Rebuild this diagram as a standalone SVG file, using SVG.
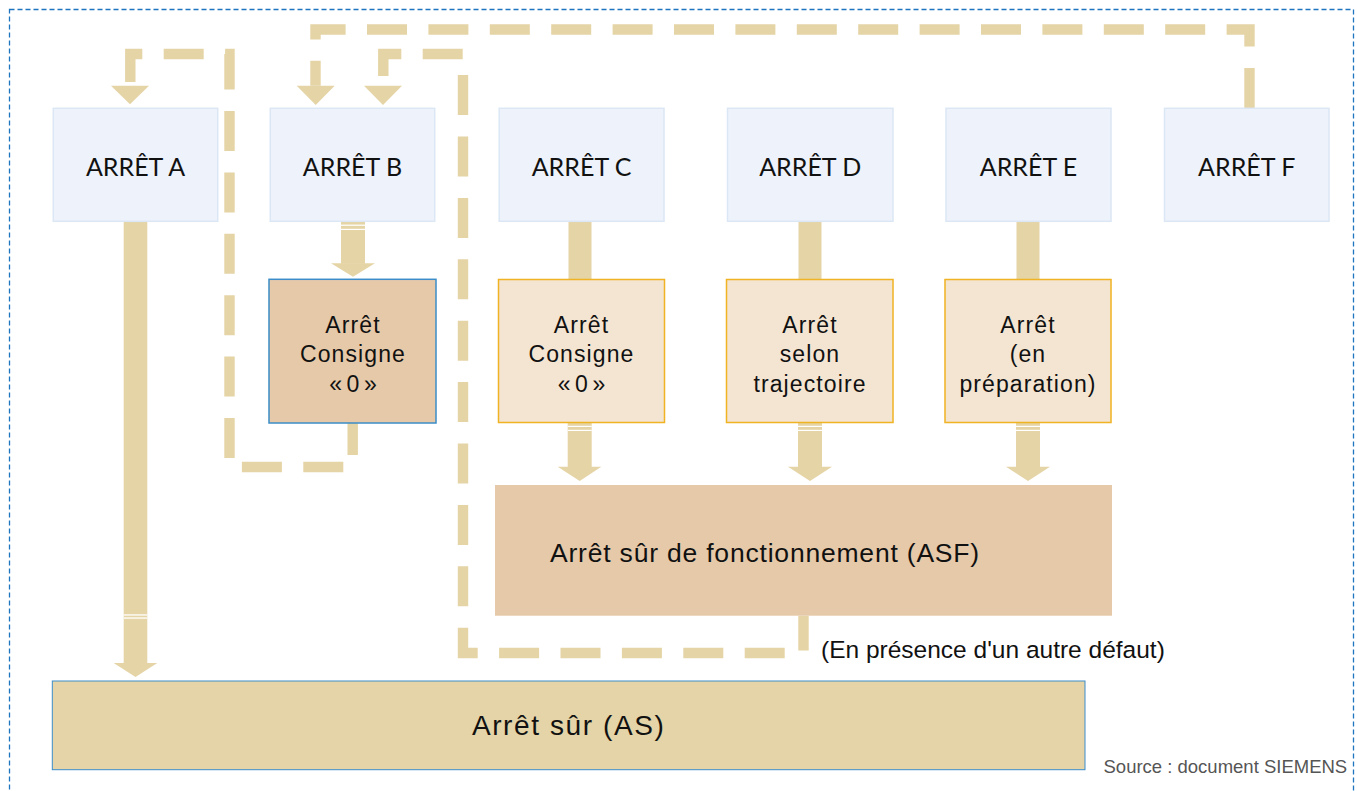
<svg xmlns="http://www.w3.org/2000/svg" width="1357" height="791" viewBox="0 0 1357 791">
  <style>
    .frame { fill: none; stroke: #1f74c0; stroke-width: 1.3; stroke-dasharray: 5 3; }
    .top { fill: #eef3fb; stroke: #dbe7f5; stroke-width: 1.5; }
    .mode { fill: #f4e5d2; stroke: #f0b323; stroke-width: 1.5; }
    .modeB { fill: #e6c9a9; stroke: #3a8dc8; stroke-width: 1.5; }
    .asf { fill: #e6c9a9; }
    .as { fill: #e4d4a7; stroke: #3a8dc8; stroke-width: 1; }
    .flow { fill: #e5d4a6; }
    .stripe { fill: #ffffff; }
    .loop { fill: none; stroke: #e5d4a6; stroke-width: 10.4; stroke-dasharray: 40 21.4; stroke-linejoin: miter; stroke-linecap: butt; }
    .cap { font-family: Lato, "Liberation Sans", sans-serif; font-size: 25px; fill: #111; text-anchor: middle; }
    .lbl { font-family: "Liberation Sans", Arial, sans-serif; font-size: 23px; letter-spacing: 1.1px; fill: #111; text-anchor: middle; }
    .big { font-family: "Liberation Sans", Arial, sans-serif; fill: #111; }
    .note { font-family: "Liberation Sans", Arial, sans-serif; font-size: 24.5px; fill: #111; }
    .src { font-family: "Liberation Sans", Arial, sans-serif; font-size: 18.5px; fill: #555; }
  </style>

  <rect class="frame" x="9.5" y="9.5" width="1344" height="790"/>

  <g id="connectors">
    <!-- dashed feedback loops -->
    <path class="loop" stroke-dashoffset="8" d="M352.7 423 V467 H229.5 V54 H130.3 V85.7"/>
    <path class="loop" stroke-dashoffset="5.3" d="M803.5 615.7 V653 H463 V54 H383.3 V85.7"/>
    <path class="loop" d="M1249.5 108 V29.5 H315.5 V85.7"/>
    <polygon class="flow" points="111,85.7 149,85.7 130,104.3"/>
    <polygon class="flow" points="296.7,85.7 334.7,85.7 315.7,105"/>
    <polygon class="flow" points="364,85.7 402,85.7 383,105"/>

    <!-- A to safe stop -->
    <rect class="flow" x="123.7" y="221" width="23.6" height="442.5"/>
    <polygon class="flow" points="113.7,663 157.3,663 135.5,677"/>
    <rect class="stripe" x="123.7" y="614.3" width="23.6" height="1.3"/>
    <rect class="stripe" x="123.7" y="617.4" width="23.6" height="1.3"/>

    <!-- B to zero-setpoint stop -->
    <rect class="flow" x="341" y="221" width="24" height="42.8"/>
    <polygon class="flow" points="331,263.3 375,263.3 353,276.7"/>
    <rect class="stripe" x="341" y="224.6" width="24" height="1.2"/>
    <rect class="stripe" x="341" y="228.8" width="24" height="1.2"/>

    <!-- C, D, E to their stop modes -->
    <rect class="flow" x="568.5" y="221" width="23" height="59"/>
    <rect class="flow" x="798.5" y="221" width="23" height="59"/>
    <rect class="flow" x="1016.5" y="221" width="23" height="59"/>

    <!-- stop modes to operational safe stop -->
    <rect class="flow" x="567.7" y="422.7" width="24" height="44.5"/>
    <polygon class="flow" points="557.7,466.7 601.3,466.7 579.7,481"/>
    <rect class="stripe" x="567.7" y="425.8" width="24" height="1.2"/>
    <rect class="stripe" x="567.7" y="429.8" width="24" height="1.2"/>

    <rect class="flow" x="798" y="422.7" width="24" height="44.5"/>
    <polygon class="flow" points="788,466.7 832,466.7 810,481"/>
    <rect class="stripe" x="798" y="425.8" width="24" height="1.2"/>
    <rect class="stripe" x="798" y="429.8" width="24" height="1.2"/>

    <rect class="flow" x="1016" y="422.7" width="24" height="44.5"/>
    <polygon class="flow" points="1006,466.7 1050,466.7 1028,481"/>
    <rect class="stripe" x="1016" y="425.8" width="24" height="1.2"/>
    <rect class="stripe" x="1016" y="429.8" width="24" height="1.2"/>
  </g>

  <g id="arret-a">
    <rect class="top" x="53.3" y="108.3" width="164.4" height="113"/>
    <text class="cap" x="135.5" y="175.7">ARRÊT A</text>
  </g>
  <g id="arret-b">
    <rect class="top" x="270.3" y="108.3" width="164.4" height="113"/>
    <text class="cap" x="352.5" y="175.7">ARRÊT B</text>
  </g>
  <g id="arret-c">
    <rect class="top" x="499.2" y="108.3" width="164.8" height="113"/>
    <text class="cap" x="581.6" y="175.7">ARRÊT C</text>
  </g>
  <g id="arret-d">
    <rect class="top" x="727.5" y="108.3" width="165.5" height="113"/>
    <text class="cap" x="810.2" y="175.7">ARRÊT D</text>
  </g>
  <g id="arret-e">
    <rect class="top" x="946" y="108.3" width="165" height="113"/>
    <text class="cap" x="1028.5" y="175.7">ARRÊT E</text>
  </g>
  <g id="arret-f">
    <rect class="top" x="1164.5" y="108.3" width="164.5" height="113"/>
    <text class="cap" x="1246.7" y="175.7">ARRÊT F</text>
  </g>

  <g id="stop-b-consigne">
    <rect class="modeB" x="269" y="279.3" width="167" height="143.7"/>
    <text class="lbl" x="353" y="332.7">Arrêt</text>
    <text class="lbl" x="353" y="361.7">Consigne</text>
    <text class="lbl" x="353" y="391.7">«&#8239;0&#8239;»</text>
  </g>
  <g id="stop-c-consigne">
    <rect class="mode" x="498.5" y="279.5" width="166" height="143"/>
    <text class="lbl" x="581.5" y="332.7">Arrêt</text>
    <text class="lbl" x="581.5" y="361.7">Consigne</text>
    <text class="lbl" x="581.5" y="391.7">«&#8239;0&#8239;»</text>
  </g>
  <g id="stop-d-trajectoire">
    <rect class="mode" x="726.5" y="279.5" width="166.5" height="143"/>
    <text class="lbl" x="810" y="332.7">Arrêt</text>
    <text class="lbl" x="810" y="361.7">selon</text>
    <text class="lbl" x="810" y="391.7">trajectoire</text>
  </g>
  <g id="stop-e-preparation">
    <rect class="mode" x="945" y="279.5" width="166" height="143"/>
    <text class="lbl" x="1028" y="332.7">Arrêt</text>
    <text class="lbl" x="1028" y="361.7">(en</text>
    <text class="lbl" x="1028" y="391.7">préparation)</text>
  </g>

  <g id="asf">
    <rect class="asf" x="495" y="485" width="617" height="130.7"/>
    <text class="big" x="550" y="562.3" font-size="26.5" letter-spacing="0.8">Arrêt sûr de fonctionnement (ASF)</text>
  </g>

  <g id="as">
    <rect class="as" x="52.3" y="681" width="1032.7" height="88.7"/>
    <text class="big" x="568.7" y="735.3" font-size="28" letter-spacing="1.6" text-anchor="middle">Arrêt sûr (AS)</text>
  </g>

  <text class="note" x="821" y="658.3">(En présence d'un autre défaut)</text>
  <text class="src" x="1103.5" y="773.3">Source : document SIEMENS</text>
</svg>
